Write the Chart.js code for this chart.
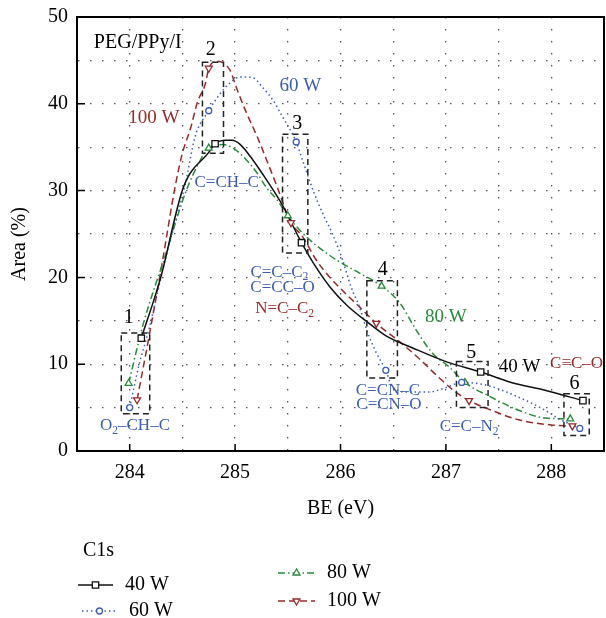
<!DOCTYPE html>
<html>
<head>
<meta charset="utf-8">
<script src="https://cdn.jsdelivr.net/npm/chart.js@4.4.0/dist/chart.umd.min.js"></script>
<style>
  html, body { margin: 0; padding: 0; background: #fff; }
</style>
</head>
<body>
<canvas id="grafico" width="606" height="618"></canvas>
<script>
// measured points (markers) - BE in eV, area in %
const be40 = [284.11, 284.81, 285.63, 287.33, 288.30];
const area40 = [13.0, 35.4, 24.0, 9.1, 5.8];
const be60 = [284.00, 284.75, 285.58, 286.43, 287.15, 288.27];
const area60 = [5.0, 39.2, 35.6, 9.3, 7.9, 2.6];
const be80 = [283.99, 284.75, 285.50, 286.39, 287.18, 288.18];
const area80 = [7.8, 34.9, 27.1, 19.0, 7.9, 3.7];
const be100 = [284.07, 284.75, 285.53, 286.34, 287.22, 288.20];
const area100 = [5.9, 44.1, 26.3, 14.7, 5.8, 2.9];

// fitted curves
const cBe40 = [284.11, 284.29, 284.51, 284.75, 284.81, 284.91, 284.97, 285.05, 285.17, 285.30, 285.45, 285.63, 285.74, 285.90, 286.06, 286.25, 286.44, 286.68, 287.00, 287.33, 287.62, 287.94, 288.30];
const cArea40 = [13.0, 19.8, 30.4, 34.4, 35.4, 35.8, 35.8, 35.3, 33.5, 31.2, 28.3, 24.0, 21.7, 18.9, 16.8, 14.9, 13.2, 11.9, 10.3, 9.1, 7.9, 7.0, 5.8];
const cBe60 = [284.00, 284.09, 284.18, 284.34, 284.53, 284.62, 284.75, 284.86, 284.95, 285.05, 285.17, 285.26, 285.36, 285.45, 285.58, 285.64, 285.75, 285.83, 285.92, 286.02, 286.10, 286.18, 286.25, 286.34, 286.43, 286.49, 286.65, 286.84, 287.00, 287.15, 287.38, 287.69, 287.94, 288.09, 288.27];
const cArea60 = [5.0, 10.0, 13.9, 22.2, 30.9, 36.2, 39.2, 41.2, 42.4, 43.1, 43.0, 41.9, 40.4, 38.5, 35.6, 33.5, 29.7, 27.4, 25.1, 22.0, 18.9, 16.6, 13.9, 11.3, 9.3, 7.4, 6.8, 6.8, 7.3, 7.9, 7.6, 6.2, 4.7, 3.6, 2.6];
const cBe80 = [283.99, 284.13, 284.34, 284.53, 284.67, 284.75, 284.89, 284.98, 285.11, 285.21, 285.30, 285.40, 285.50, 285.64, 285.80, 285.99, 286.18, 286.39, 286.56, 286.72, 286.87, 287.03, 287.18, 287.43, 287.69, 287.94, 288.18];
const cArea80 = [7.8, 14.7, 22.6, 29.8, 33.5, 34.9, 35.3, 34.9, 33.5, 32.0, 30.3, 28.9, 27.1, 25.1, 23.4, 21.8, 20.5, 19.0, 17.1, 13.9, 11.3, 9.7, 7.9, 6.2, 4.7, 3.8, 3.7];
const cBe100 = [284.07, 284.19, 284.31, 284.43, 284.50, 284.58, 284.64, 284.72, 284.75, 284.83, 284.95, 285.02, 285.11, 285.21, 285.30, 285.40, 285.53, 285.64, 285.77, 285.90, 286.06, 286.18, 286.34, 286.56, 286.75, 286.93, 287.06, 287.22, 287.43, 287.69, 288.00, 288.20];
const cArea100 = [5.9, 13.6, 21.8, 30.4, 34.3, 37.3, 40.1, 42.4, 44.1, 44.9, 43.9, 41.6, 38.9, 36.2, 33.5, 30.4, 26.3, 24.7, 22.0, 20.0, 18.0, 16.6, 14.7, 12.6, 10.6, 8.5, 7.1, 5.8, 4.7, 3.6, 3.0, 2.9];

// tick labels
const xTicks = [284, 285, 286, 287, 288];
const yTicks = [0, 10, 20, 30, 40, 50];

const fonte = '"Liberation Serif", "Times New Roman", serif';
const preto = '#111111';
const azul = '#3d5db4';
const verde = '#2a8a3c';
const vermelho = '#962a2c';

const series = [
    { nome: '40 W', cor: preto, dash: [], estilo: 'rect', raio: 4.5, rot: 0, be: be40, area: area40, cbe: cBe40, carea: cArea40 },
    { nome: '60 W', cor: azul, dash: [1.5, 3], estilo: 'circle', raio: 3, rot: 0, be: be60, area: area60, cbe: cBe60, carea: cArea60 },
    { nome: '80 W', cor: verde, dash: [7, 3, 1.5, 3], estilo: 'triangle', raio: 4, rot: 0, be: be80, area: area80, cbe: cBe80, carea: cArea80 },
    { nome: '100 W', cor: vermelho, dash: [7, 4], estilo: 'triangle', raio: 4, rot: 180, be: be100, area: area100, cbe: cBe100, carea: cArea100 }
];

const pares = (xs, ys) => xs.map((v, i) => ({ x: v, y: ys[i] }));

const datasets = [];
series.forEach(s => {
    datasets.push({
        label: s.nome,
        data: pares(s.cbe, s.carea),
        showLine: true,
        borderColor: s.cor,
        borderWidth: 1.5,
        borderDash: s.dash,
        pointRadius: 0,
        cubicInterpolationMode: 'monotone',
        order: 2
    });
});
series.forEach(s => {
    datasets.push({
        label: s.nome + ' pts',
        data: pares(s.be, s.area),
        showLine: false,
        pointStyle: s.estilo,
        pointRotation: s.rot,
        pointRadius: s.raio,
        pointBorderWidth: 1.3,
        pointBorderColor: s.cor,
        pointBackgroundColor: '#ffffff',
        order: 1
    });
});

// dashed boxes around the peak groups
const caixas = [
    { n: '1', x0: 283.92, x1: 284.19, y0: 4.3, y1: 13.6, nx: 283.99, ny: 15.3 },
    { n: '2', x0: 284.69, x1: 284.89, y0: 34.3, y1: 44.8, nx: 284.77, ny: 46.2 },
    { n: '3', x0: 285.45, x1: 285.69, y0: 22.8, y1: 36.5, nx: 285.59, ny: 37.7 },
    { n: '4', x0: 286.25, x1: 286.54, y0: 8.4, y1: 19.6, nx: 286.40, ny: 20.9 },
    { n: '5', x0: 287.10, x1: 287.40, y0: 5.0, y1: 10.3, nx: 287.24, ny: 11.3 },
    { n: '6', x0: 288.12, x1: 288.36, y0: 1.8, y1: 6.6, nx: 288.22, ny: 7.8 }
];

// text labels inside the plot ('_' marks a subscript piece)
const rotulos = [
    { t: ['PEG/PPy/I'], x: 283.66, y: 47.0, c: '#000', s: 20, al: 'left' },
    { t: ['100 W'], x: 284.23, y: 38.4, c: vermelho, s: 19 },
    { t: ['60 W'], x: 285.62, y: 42.1, c: azul, s: 19 },
    { t: ['80 W'], x: 287.00, y: 15.4, c: verde, s: 19 },
    { t: ['40 W'], x: 287.70, y: 9.7, c: '#000', s: 19 },
    { t: ['C=CH–C'], x: 284.92, y: 30.9, c: azul, s: 17 },
    { t: ['C=C–C', '_2'], x: 285.42, y: 20.6, c: azul, s: 17 },
    { t: ['C=CC–O'], x: 285.45, y: 18.8, c: azul, s: 17 },
    { t: ['N=C–C', '_2'], x: 285.47, y: 16.4, c: vermelho, s: 17 },
    { t: ['O', '_2', '–CH–C'], x: 284.05, y: 2.9, c: azul, s: 17 },
    { t: ['C=CN–C'], x: 286.45, y: 7.0, c: azul, s: 17 },
    { t: ['C=CN–O'], x: 286.46, y: 5.4, c: azul, s: 17 },
    { t: ['C=C–N', '_2'], x: 287.22, y: 2.8, c: azul, s: 17 },
    { t: ['C≡C–O'], x: 288.24, y: 10.1, c: vermelho, s: 17 }
];

function textoComposto(ctx, partes, x, y, tam, cor, al) {
    const pedacos = partes.map(p => {
        const sub = p.startsWith('_');
        const txt = sub ? p.slice(1) : p;
        const t = sub ? tam * 0.68 : tam;
        ctx.font = t + 'px ' + fonte;
        return { txt, sub, t, w: ctx.measureText(txt).width };
    });
    const total = pedacos.reduce((a, p) => a + p.w, 0);
    let px = al === 'left' ? x : x - total / 2;
    ctx.fillStyle = cor;
    ctx.textAlign = 'left';
    ctx.textBaseline = 'middle';
    pedacos.forEach(p => {
        ctx.font = p.t + 'px ' + fonte;
        ctx.fillText(p.txt, px, p.sub ? y + tam * 0.3 : y);
        px += p.w;
    });
}

function marcador(ctx, estilo, rot, raio, x, y, cor) {
    ctx.save();
    ctx.setLineDash([]);
    ctx.lineWidth = 1.3;
    ctx.strokeStyle = cor;
    ctx.fillStyle = '#fff';
    ctx.beginPath();
    if (estilo === 'rect') {
        const h = raio * Math.SQRT1_2;
        ctx.rect(x - h, y - h, 2 * h, 2 * h);
    } else if (estilo === 'circle') {
        ctx.arc(x, y, raio, 0, Math.PI * 2);
    } else {
        const d = rot ? -1 : 1;
        ctx.moveTo(x, y - d * raio);
        ctx.lineTo(x + raio * 0.87, y + d * raio * 0.5);
        ctx.lineTo(x - raio * 0.87, y + d * raio * 0.5);
        ctx.closePath();
    }
    ctx.fill();
    ctx.stroke();
    ctx.restore();
}

const anotacoes = {
    id: 'anotacoes',
    afterDatasetsDraw(chart) {
        const { ctx, scales: { x, y } } = chart;
        ctx.save();
        ctx.setLineDash([6, 4]);
        ctx.lineWidth = 1.5;
        ctx.strokeStyle = '#222';
        caixas.forEach(c => {
            const l = x.getPixelForValue(c.x0), r = x.getPixelForValue(c.x1);
            const t = y.getPixelForValue(c.y1), b = y.getPixelForValue(c.y0);
            ctx.strokeRect(l, t, r - l, b - t);
        });
        ctx.setLineDash([]);
        caixas.forEach(c => {
            textoComposto(ctx, [c.n], x.getPixelForValue(c.nx), y.getPixelForValue(c.ny), 20, '#000');
        });
        rotulos.forEach(r => {
            textoComposto(ctx, r.t, x.getPixelForValue(r.x), y.getPixelForValue(r.y), r.s, r.c, r.al);
        });
        ctx.restore();
    },
    afterDraw(chart) {
        const { ctx, chartArea: a, scales: { x, y } } = chart;
        ctx.save();
        // frame + inward ticks
        ctx.strokeStyle = '#000';
        ctx.lineWidth = 2;
        ctx.strokeRect(a.left, a.top, a.right - a.left, a.bottom - a.top);
        ctx.lineWidth = 1.5;
        ctx.beginPath();
        xTicks.forEach(v => {
            const px = x.getPixelForValue(v);
            ctx.moveTo(px, a.bottom);
            ctx.lineTo(px, a.bottom - 7);
        });
        yTicks.forEach(v => {
            const py = y.getPixelForValue(v);
            ctx.moveTo(a.left, py);
            ctx.lineTo(a.left + 8, py);
        });
        ctx.stroke();

        // legend
        textoComposto(ctx, ['C1s'], 83, 551, 20, '#000', 'left');
        const pos = [
            { x0: 78, x1: 113, y: 585 },
            { x0: 82, x1: 117, y: 611 },
            { x0: 278, x1: 315, y: 573 },
            { x0: 278, x1: 315, y: 601 }
        ];
        series.forEach((s, i) => {
            const p = pos[i];
            ctx.save();
            ctx.strokeStyle = s.cor;
            ctx.lineWidth = 1.5;
            ctx.setLineDash(s.dash);
            ctx.beginPath();
            ctx.moveTo(p.x0, p.y);
            ctx.lineTo(p.x1, p.y);
            ctx.stroke();
            ctx.restore();
            marcador(ctx, s.estilo, s.rot, s.raio, (p.x0 + p.x1) / 2, p.y, s.cor);
            textoComposto(ctx, [s.nome], p.x1 + 12, p.y, 20, '#000', 'left');
        });
        ctx.restore();
    }
};

const grafico = new Chart(document.getElementById('grafico'), {
    type: 'scatter',
    data: { datasets },
    options: {
        responsive: false,
        animation: false,
        events: [],
        layout: { autoPadding: false, padding: { top: 17, right: 2, bottom: 97, left: 0 } },
        plugins: {
            legend: { display: false },
            tooltip: { enabled: false }
        },
        scales: {
            x: {
                type: 'linear',
                min: 283.5,
                max: 288.5,
                afterBuildTicks: s => {
                    const t = [];
                    for (let v = 283.5; v <= 288.5 + 1e-9; v += 0.5) t.push({ value: v });
                    s.ticks = t;
                },
                afterFit: s => { s.paddingLeft = 0; s.paddingRight = 0; },
                ticks: {
                    autoSkip: false,
                    maxRotation: 0,
                    padding: 10,
                    color: '#000',
                    font: { family: fonte, size: 20 },
                    callback: v => xTicks.includes(v) ? String(v) : ''
                },
                grid: { color: '#555', lineWidth: 1.3, drawTicks: false },
                border: { display: true, color: '#000', width: 2, dash: [1.5, 10.5] },
                title: {
                    display: true,
                    text: 'BE (eV)',
                    color: '#000',
                    font: { family: fonte, size: 20 },
                    padding: { top: 2, bottom: 0 }
                }
            },
            y: {
                min: 0,
                max: 50,
                afterFit: s => { s.width = 77; s.paddingTop = 0; s.paddingBottom = 0; },
                afterBuildTicks: s => {
                    const t = [];
                    for (let v = 0; v <= 50; v += 5) t.push({ value: v });
                    s.ticks = t;
                },
                ticks: {
                    padding: 9,
                    color: '#000',
                    font: { family: fonte, size: 20 },
                    callback: v => yTicks.includes(v) ? String(v) : ''
                },
                grid: { color: '#555', lineWidth: 1.3, drawTicks: false },
                border: { display: true, color: '#000', width: 2, dash: [1.5, 10.5] },
                title: {
                    display: true,
                    text: 'Area (%)    ',
                    color: '#000',
                    font: { family: fonte, size: 20 },
                    padding: { top: 8, bottom: 0 }
                }
            }
        }
    },
    plugins: [anotacoes]
});
</script>
</body>
</html>
